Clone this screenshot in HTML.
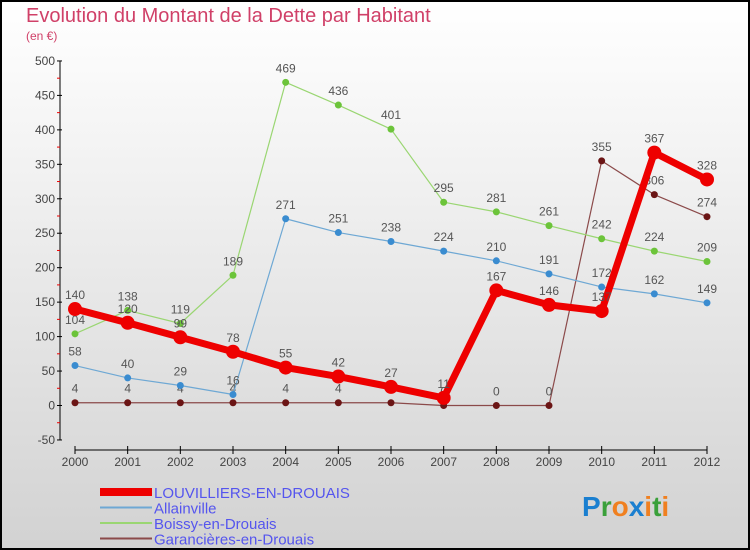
<!DOCTYPE html>
<html><head><meta charset="utf-8"><style>
html,body{margin:0;padding:0}
body{width:750px;height:550px;overflow:hidden;font-family:"Liberation Sans",sans-serif}
#wrap{position:relative;width:746px;height:546px;border:2px solid #000;background:linear-gradient(#fff,#f2f2f2 30%,#d2d2d2)}
svg{position:absolute;left:-2px;top:-2px}
</style></head><body>
<div id="wrap">
<svg id="c" width="750" height="550">
<text x="26" y="22" font-size="20" fill="#d04068">Evolution du Montant de la Dette par Habitant</text>
<text x="26" y="40" font-size="12" fill="#d04068">(en €)</text>
</svg>
</div>
<script>
const years=[2000,2001,2002,2003,2004,2005,2006,2007,2008,2009,2010,2011,2012];
const yTicks=[-50,0,50,100,150,200,250,300,350,400,450,500];
const louvilliers=[140,120,99,78,55,42,27,11,167,146,137,367,328];
const allainville=[58,40,29,16,271,251,238,224,210,191,172,162,149];
const boissy=[104,138,119,189,469,436,401,295,281,261,242,224,209];
const garancieres=[4,4,4,4,4,4,4,0,0,0,355,306,274];
const seriesNames=["LOUVILLIERS-EN-DROUAIS","Allainville","Boissy-en-Drouais","Garancières-en-Drouais"];
const NS="http://www.w3.org/2000/svg";
const svg=document.getElementById('c');
const X=i=>75+i*(707-75)/(years.length-1);
const Y=v=>405.5-v*(440-61)/550;
function mk(t,a,p){const e=document.createElementNS(NS,t);for(const k in a)e.setAttribute(k,a[k]);(p||svg).appendChild(e);return e;}
let ax=mk('line',{x1:60,y1:61,x2:60,y2:440,stroke:'#000','stroke-width':1});


yTicks.forEach(v=>{
  mk('line',{x1:57,y1:Y(v),x2:62,y2:Y(v),stroke:'#000'});
  if(v<500) mk('line',{x1:57,y1:Y(v+25),x2:60,y2:Y(v+25),stroke:'#e00'});
  const t=mk('text',{x:55,y:Y(v)+4,'font-size':12,'text-anchor':'end',fill:'#444'});
  t.textContent=v;
  
  
});
let xa=mk('line',{x1:75,y1:450,x2:707,y2:450,stroke:'#000'});


years.forEach((y,i)=>{
  mk('line',{x1:X(i),y1:446,x2:X(i),y2:454,stroke:'#000'});
  const t=mk('text',{x:X(i),y:466,'font-size':12,'text-anchor':'middle',fill:'#444'});
  t.textContent=y;
  
  
});
function series(vals,color,w,r,name,dot){
  const g=mk('g',{});
  
  
  mk('polyline',{points:vals.map((v,i)=>X(i)+','+Y(v)).join(' '),fill:'none',stroke:color,'stroke-width':w,'stroke-linejoin':'round'},g);
  vals.forEach((v,i)=>{
    const c=mk('circle',{cx:X(i),cy:Y(v),r:r,fill:dot},g);
    
    
    const t=mk('text',{x:X(i),y:Y(v)-10,'font-size':12,'text-anchor':'middle',fill:'#555'},g);
    t.textContent=v;
    
    
  });
}
series(garancieres,'#8b4a4a',1.2,3.5,'series-garancieres','#6b1515');
series(boissy,'#9ad672',1.2,3.5,'series-boissy','#6cc43a');
series(allainville,'#6ea8d4',1.2,3.5,'series-allainville','#3a8cd0');
series(louvilliers,'#ee0000',7,7,'series-louvilliers','#ee0000');
const lg=[['#ee0000',8],['#6ea8d4',2],['#9ad672',2],['#8b4a4a',2]];
lg.forEach((l,i)=>{
  const y=492+i*15.5;
  const g=mk('g',{});
  
  
  mk('line',{x1:100,y1:y,x2:152,y2:y,stroke:l[0],'stroke-width':l[1]},g);
  const t=mk('text',{x:154,y:y+6,'font-size':15,fill:'#5555ee'},g);
  t.textContent=seriesNames[i];
});
const p=mk('text',{x:582,y:516,'font-size':28,'font-weight':'bold'});


[['P','#1a7fd0'],['r','#3aa03a'],['o','#f08020'],['x','#1a7fd0'],['i','#f08020'],['t','#3aa03a'],['i','#f08020']].forEach(c=>{const s=mk('tspan',{fill:c[1]},p);s.textContent=c[0];});
</script>
</body></html>
